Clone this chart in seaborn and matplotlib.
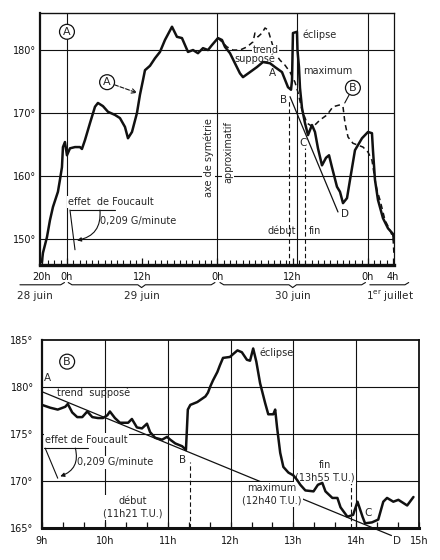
import matplotlib
matplotlib.use("Agg")
import matplotlib.pyplot as plt
import matplotlib.transforms as mtrans
import seaborn as sns

# ---------------- chart A : 28 juin 20h -> 1er juillet 4h (hours from 29 juin 0h)
a_hours = [-4.0, -3.83, -3.19, -2.71, -2.23, -1.44, -1.12, -0.80, -0.64, -0.32,
           0.00, 0.48, 1.28, 2.07, 2.39, 2.87, 3.67, 4.47, 4.94, 5.74,
           6.54, 7.66, 8.45, 9.25, 9.73, 10.37, 11.16, 11.64, 12.12, 12.44,
           13.24, 14.04, 14.83, 15.63, 16.75, 17.54, 18.34, 19.30, 20.10, 20.89,
           21.69, 22.49, 23.13, 24.08, 24.72, 25.20, 26.00, 26.79, 27.59, 28.07,
           29.19, 30.30, 31.26, 32.38, 33.17, 34.29, 35.25, 35.73, 35.89, 36.04,
           36.68, 36.76, 37.00, 37.16, 37.48, 37.96, 38.44, 39.07, 39.55, 40.03,
           40.67, 41.31, 41.79, 42.26, 43.06, 43.54, 44.02, 44.66, 45.14, 45.93,
           47.05, 48.01, 48.64, 48.80, 49.12, 49.60, 50.40, 51.20, 52.00, 52.15]
a_deg = [146.3, 147.8, 150.3, 153.0, 155.1, 157.5, 159.4, 161.4, 164.6, 165.4,
         163.3, 164.4, 164.6, 164.6, 164.3, 165.7, 168.4, 171.0, 171.6, 171.1,
         170.2, 169.7, 169.2, 167.8, 166.0, 167.0, 170.0, 172.9, 175.2, 176.8,
         177.5, 178.7, 179.7, 181.6, 183.7, 182.1, 181.9, 179.7, 180.0, 179.5,
         180.3, 180.0, 180.8, 181.9, 181.6, 180.5, 179.5, 177.9, 176.3, 175.7,
         176.5, 177.3, 178.1, 177.9, 177.3, 176.5, 174.1, 173.7, 175.2, 182.7,
         182.9, 180.0, 177.3, 174.0, 170.8, 168.4, 166.5, 168.1, 167.0, 164.4,
         161.7, 162.9, 163.3, 161.4, 158.3, 157.5, 155.7, 156.5, 159.4, 164.1,
         166.0, 167.0, 166.8, 164.1, 159.4, 156.2, 153.3, 151.7, 150.8, 149.8]

# curve B (dashed), drawn from 30 juin 0h onwards
b_hours = [24.08, 24.72, 25.52, 26.48, 27.59, 28.71, 29.67, 29.98, 30.46, 31.10,
           31.58, 32.06, 32.70, 33.17, 33.97, 34.77, 35.57, 36.36, 36.84, 37.48,
           38.28, 39.23, 40.35, 41.47, 42.42, 43.54, 44.02, 44.34, 44.82, 45.61,
           46.41, 47.21, 48.01, 48.64, 49.12, 49.44, 49.92, 50.72, 51.52, 52.00,
           52.15]
b_deg = [181.9, 181.3, 180.5, 180.0, 180.0, 180.5, 181.3, 182.7, 182.1, 182.7,
         183.5, 183.2, 181.1, 179.5, 178.4, 177.6, 176.5, 174.9, 173.3, 170.5,
         168.4, 167.8, 168.9, 169.7, 171.0, 171.3, 171.0, 168.4, 166.2, 165.2,
         164.9, 164.6, 163.8, 162.5, 159.4, 157.8, 156.2, 153.0, 151.4, 150.2,
         147.5]

a_trend_hours = [35.57, 43.22]
a_trend_deg = [172.6, 154.3]

a_tick_hours = [-4, 0, 12, 24, 36, 48, 52]
a_tick_labels = ["20h", "0h", "12h", "0h", "12h", "0h", "4h"]
a_deg_ticks = [150, 160, 170, 180]
dates = ["28 juin", "29 juin", "30 juin", r"1$^{\rm er}$ juillet"]
date_pos = [-5.1, 12, 36, 51.5]
date_spans = [(-7.5, -0.4), (0.2, 23.6), (24.4, 47.6), (48.3, 54.5)]

# ---------------- chart B : 30 juin, 9h -> 15h T.U.
c_hours = [9.00, 9.13, 9.25, 9.37, 9.41, 9.48, 9.56, 9.64, 9.72, 9.80,
           9.89, 9.97, 10.04, 10.08, 10.16, 10.24, 10.37, 10.43, 10.51, 10.59,
           10.67, 10.72, 10.80, 10.91, 10.99, 11.04, 11.12, 11.23, 11.29, 11.32,
           11.36, 11.47, 11.60, 11.64, 11.68, 11.72, 11.79, 11.83, 11.88, 11.99,
           12.04, 12.11, 12.18, 12.26, 12.31, 12.36, 12.41, 12.47, 12.55, 12.60,
           12.68, 12.71, 12.74, 12.79, 12.84, 12.92, 13.00, 13.06, 13.11, 13.19,
           13.32, 13.39, 13.46, 13.51, 13.62, 13.70, 13.75, 13.86, 13.95, 14.02,
           14.10, 14.14, 14.25, 14.35, 14.43, 14.49, 14.59, 14.67, 14.81, 14.91]
c_deg = [178.1, 177.8, 177.6, 177.9, 178.2, 177.3, 176.8, 176.8, 177.4, 176.8,
         176.7, 176.7, 177.0, 177.4, 176.7, 176.2, 176.2, 176.6, 175.7, 175.6,
         176.1, 175.2, 174.6, 174.4, 174.7, 174.4, 174.0, 173.7, 173.3, 177.6,
         178.1, 178.4, 179.0, 179.4, 180.1, 180.7, 181.6, 182.3, 183.1, 183.2,
         183.5, 183.9, 183.7, 182.9, 182.8, 184.1, 182.7, 180.4, 178.3, 177.1,
         177.1, 177.6, 175.7, 173.0, 171.5, 170.9, 170.6, 170.1, 169.6, 169.0,
         168.9, 169.6, 169.8, 168.9, 168.2, 168.2, 167.2, 166.2, 166.4, 167.8,
         166.2, 165.5, 165.6, 165.9, 167.8, 168.2, 167.8, 168.0, 167.4, 168.3]
c_trend_hours = [9.0, 14.56]
c_trend_deg = [179.5, 164.2]
c_tick_hours = [9, 10, 11, 12, 13, 14, 15]
c_deg_ticks = [165, 170, 175, 180, 185]

ECL_START = 11 + 21 / 60
ECL_MAX = 12 + 40 / 60
ECL_END = 13 + 55 / 60

INK = "#111111"
sns.set_style("white")
plt.rcParams["font.family"] = ["DejaVu Sans"]
plt.rcParams["font.size"] = 7
WHITE = dict(facecolor="white", edgecolor="none", pad=1)
CIRCLE = dict(boxstyle="circle,pad=0.22", fc="white", ec=INK, lw=0.9)
DASH = (0, (4, 2.5))

fig = plt.figure(figsize=(4.4, 5.6), dpi=100)

# ================= A =================
axA = fig.add_axes([0.0909, 0.527, 0.8045, 0.45])
for v in a_deg_ticks:
    axA.axhline(v, color=INK, lw=0.8, zorder=1)
for t in [0, 24, 24 + ECL_MAX, 48]:
    axA.axvline(t, color=INK, lw=0.8, zorder=1)

sns.lineplot(x=a_hours, y=a_deg, ax=axA, color=INK, lw=1.8,
             estimator=None, sort=False, zorder=4)
sns.lineplot(x=b_hours, y=b_deg, ax=axA, color=INK, lw=1.1,
             estimator=None, sort=False, linestyle=(0, (3.5, 2.5)), zorder=3)
axA.plot(a_trend_hours, a_trend_deg, color=INK, lw=0.9, zorder=3)
axA.vlines([24 + ECL_START], 145.9, 172.0, colors=INK, lw=0.8, linestyles=[DASH], zorder=2)
axA.vlines([24 + ECL_END], 145.9, 164.5, colors=INK, lw=0.8, linestyles=[DASH], zorder=2)

axA.set_xlim(-4.3, 52.15)
axA.set_ylim(145.9, 185.9)
axA.set_xticks(a_tick_hours)
axA.set_xticklabels(a_tick_labels)
axA.set_xticks(range(-4, 53), minor=True)
axA.set_yticks(a_deg_ticks)
axA.set_yticklabels([f"{v}°" for v in a_deg_ticks])
axA.tick_params(axis="x", which="both", direction="in", bottom=True, pad=5, colors=INK)
axA.tick_params(axis="x", which="major", length=5, width=0.9)
axA.tick_params(axis="x", which="minor", length=3.5, width=0.8)
axA.tick_params(axis="y", length=0, pad=3, colors=INK)
for side, w in [("left", 1.6), ("bottom", 2.4), ("top", 1.0), ("right", 0.9)]:
    axA.spines[side].set_linewidth(w)
    axA.spines[side].set_color(INK)
axA.set_xlabel("")
axA.set_ylabel("")

axA.text(0, 182.9, "A", ha="center", va="center", fontsize=8, bbox=CIRCLE, zorder=6)
axA.annotate("A", xy=(11.2, 173.2), xytext=(6.4, 174.9), ha="center", va="center",
             fontsize=8, bbox=CIRCLE, zorder=6,
             arrowprops=dict(arrowstyle="->", linestyle="--", lw=0.8, color=INK,
                             shrinkA=0, shrinkB=0))
axA.annotate("B", xy=(44.3, 171.6), xytext=(45.6, 174.0), ha="center", va="center",
             fontsize=8, bbox=CIRCLE, zorder=6,
             arrowprops=dict(arrowstyle="-", lw=0.8, color=INK, shrinkA=0, shrinkB=0))
axA.text(22.6, 163.0, "axe de symétrie", rotation=90, ha="center", va="center",
         bbox=WHITE, zorder=2)
axA.text(25.7, 163.8, "approximatif", rotation=90, ha="center", va="center",
         bbox=WHITE, zorder=2)
axA.text(31.7, 180.0, "trend", ha="center", va="center", bbox=dict(WHITE, pad=0.2), zorder=3.5)
axA.text(30.0, 178.6, "supposé", ha="center", va="center", bbox=dict(WHITE, pad=0.2), zorder=3.5)
axA.text(37.6, 182.4, "éclipse", ha="left", va="center", zorder=5)
axA.text(37.6, 176.7, "maximum", ha="left", va="center", zorder=5)
for lab, t, v in [("A", 32.8, 176.3), ("B", 34.6, 172.1), ("C", 37.6, 165.2), ("D", 44.3, 154.0)]:
    axA.text(t, v, lab, ha="center", va="center", fontsize=7.5, zorder=5)
axA.text(34.3, 151.3, "début", ha="center", va="center", zorder=5)
axA.text(39.5, 151.3, "fin", ha="center", va="center", zorder=5)

# Foucault effect symbol
axA.text(0.16, 155.9, "effet  de Foucault", ha="left", va="center", bbox=WHITE, zorder=2)
axA.plot([0.48, 7.66], [154.6, 154.6], color=INK, lw=0.8, zorder=3)
axA.plot([0.48, 1.28], [154.6, 148.3], color=INK, lw=0.8, zorder=3)
axA.annotate("", xy=(1.6, 149.8), xytext=(5.26, 154.6),
             arrowprops=dict(arrowstyle="-|>", connectionstyle="arc3,rad=-0.45",
                             lw=0.8, color=INK, mutation_scale=6, shrinkA=0, shrinkB=0))
axA.text(5.3, 152.9, "0,209 G/minute", ha="left", va="center", bbox=WHITE, zorder=2)

# date braces below axis A
trA = mtrans.blended_transform_factory(axA.transData, axA.transAxes)
for i, (name, pos, (t0, t1)) in enumerate(zip(dates, date_pos, date_spans)):
    mid = (t0 + t1) / 2
    if i in (1, 2):
        xs = [t0, t0 + 0.6, mid - 0.6, mid, mid + 0.6, t1 - 0.6, t1]
        ys = [-0.070, -0.079, -0.079, -0.090, -0.079, -0.079, -0.070]
    else:
        xs = [t0, t0 + 0.6, t1 - 0.6, t1]
        ys = [-0.079, -0.079, -0.079, -0.070]
    axA.plot(xs, ys, transform=trA, color=INK, lw=0.8, clip_on=False)
    axA.text(pos, -0.125, name, transform=trA, ha="center", va="center", fontsize=7.5)

# ================= B =================
axB = fig.add_axes([0.0955, 0.0571, 0.857, 0.3357])
for v in c_deg_ticks[1:-1]:
    axB.axhline(v, color=INK, lw=0.8, zorder=1)
for t in c_tick_hours[1:-1]:
    axB.axvline(t, color=INK, lw=0.8, zorder=1)

sns.lineplot(x=c_hours, y=c_deg, ax=axB, color=INK, lw=1.8,
             estimator=None, sort=False, zorder=4)
axB.plot(c_trend_hours, c_trend_deg, color=INK, lw=0.9, zorder=3, clip_on=False)
axB.vlines([ECL_START], 165, 172.0, colors=INK, lw=0.8, linestyles=[DASH], zorder=2)
axB.vlines([ECL_END], 165, 170.3, colors=INK, lw=0.8, linestyles=[DASH], zorder=2)

axB.set_xlim(9, 15)
axB.set_ylim(165, 185)
axB.set_xticks(c_tick_hours)
axB.set_xticklabels([f"{h}h" for h in c_tick_hours])
axB.set_xticks([9 + k / 3 for k in range(19)], minor=True)
axB.set_yticks(c_deg_ticks)
axB.set_yticklabels([f"{v}°" for v in c_deg_ticks])
axB.tick_params(axis="x", which="both", direction="in", bottom=True, length=4,
                width=0.9, pad=6, colors=INK)
axB.tick_params(axis="y", length=0, pad=6, colors=INK)
for side, w in [("left", 1.6), ("bottom", 2.2), ("top", 1.3), ("right", 1.3)]:
    axB.spines[side].set_linewidth(w)
    axB.spines[side].set_color(INK)
axB.set_xlabel("")
axB.set_ylabel("")

axB.text(9.40, 182.7, "B", ha="center", va="center", fontsize=8, bbox=CIRCLE, zorder=6)
axB.text(9.08, 181.0, "A", ha="center", va="center", fontsize=7.5)
axB.text(9.24, 179.4, "trend  supposé", ha="left", va="center", zorder=5)
axB.text(11.23, 172.2, "B", ha="center", va="center", fontsize=7.5, zorder=5)
axB.text(14.19, 166.6, "C", ha="center", va="center", fontsize=7.5, zorder=5)
axB.text(14.65, 163.6, "D", ha="center", va="center", fontsize=7.5, clip_on=False)
axB.text(12.46, 183.7, "éclipse", ha="left", va="center", zorder=5)
axB.text(13.50, 171.05, "fin\n(13h55 T.U.)", ha="center", va="center",
         linespacing=1.3, bbox=WHITE, zorder=3.5)
axB.text(12.65, 168.55, "maximum\n(12h40 T.U.)", ha="center", va="center",
         linespacing=1.3, bbox=WHITE, zorder=3.5)
axB.text(10.45, 167.2, "début\n(11h21 T.U.)", ha="center", va="center",
         linespacing=1.3, bbox=WHITE, zorder=3.5)

axB.text(9.05, 174.4, "effet de Foucault", ha="left", va="center", bbox=WHITE, zorder=2)
axB.plot([9.03, 9.73], [173.5, 173.5], color=INK, lw=0.8, zorder=3)
axB.plot([9.05, 9.25], [173.5, 170.3], color=INK, lw=0.8, zorder=3)
axB.annotate("", xy=(9.29, 170.5), xytext=(9.53, 173.5),
             arrowprops=dict(arrowstyle="-|>", connectionstyle="arc3,rad=-0.45",
                             lw=0.8, color=INK, mutation_scale=6, shrinkA=0, shrinkB=0))
axB.text(9.56, 172.0, "0,209 G/minute", ha="left", va="center", bbox=WHITE, zorder=2)

fig.savefig("out.png", dpi=100)
